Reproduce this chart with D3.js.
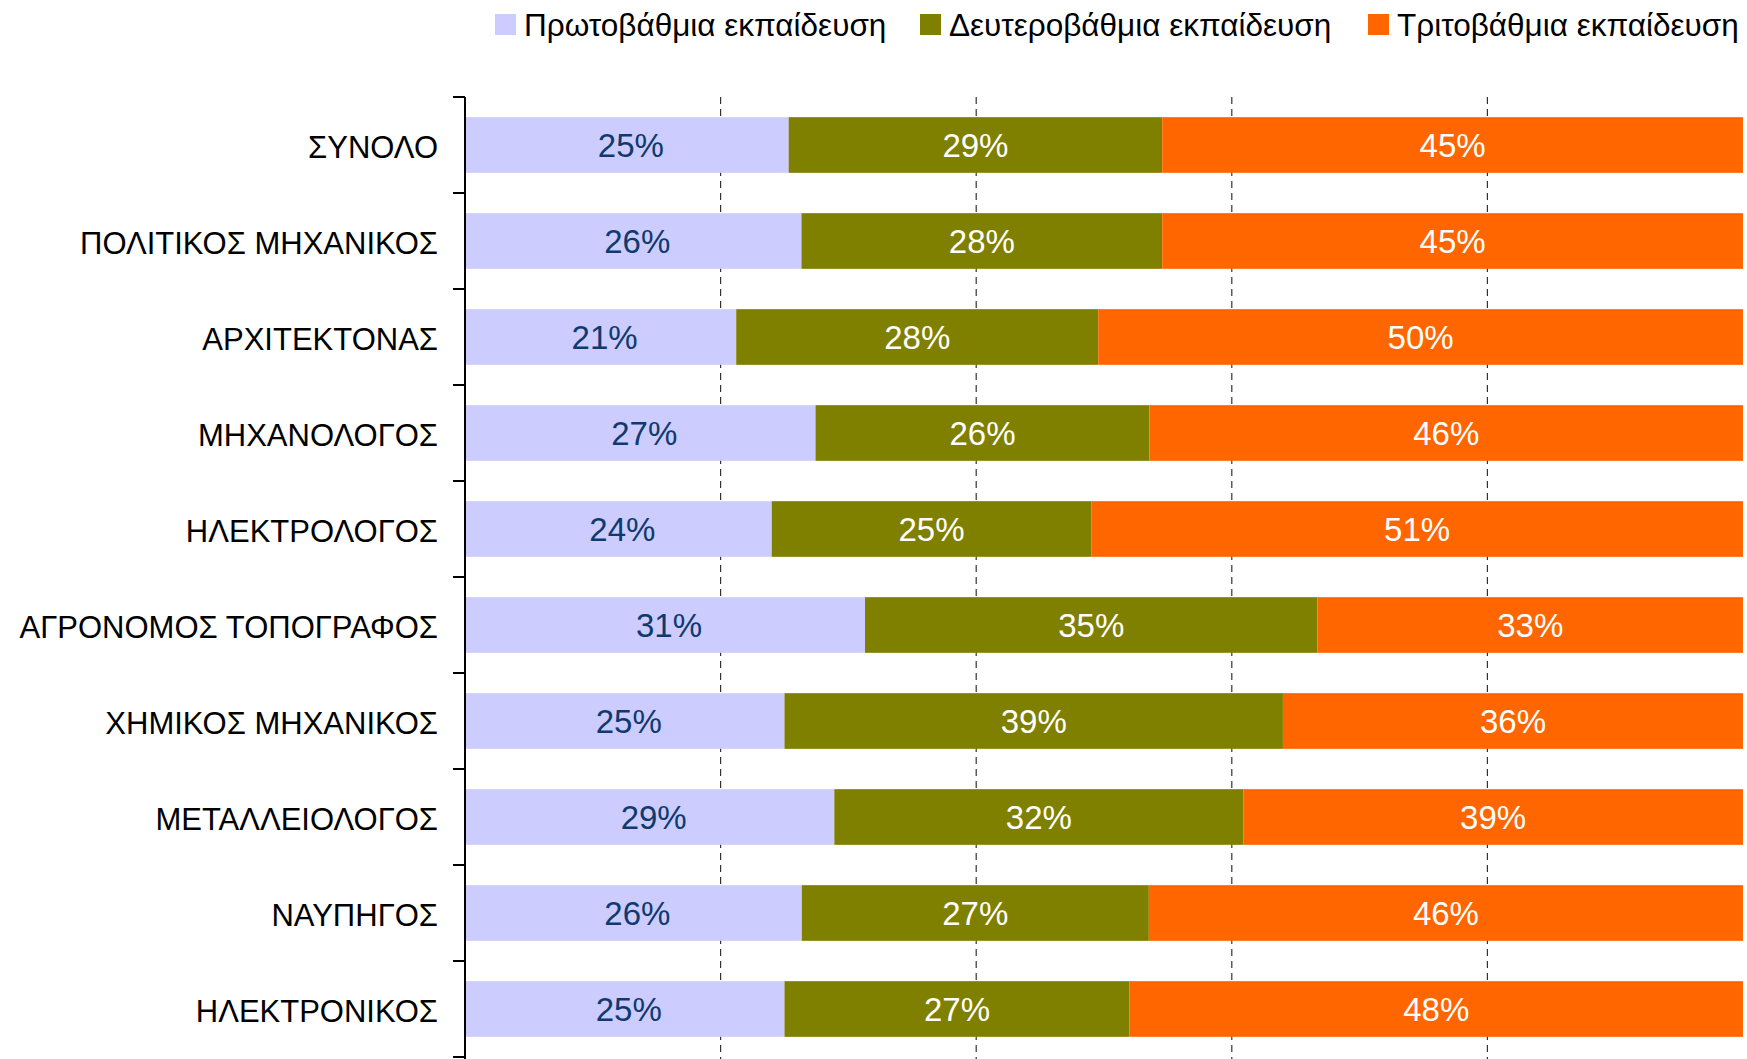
<!DOCTYPE html>
<html><head><meta charset="utf-8">
<script src="https://cdn.jsdelivr.net/npm/d3@7"></script>
<style>body{margin:0;background:#fff}svg{display:block}text{font-family:"Liberation Sans",Arial,sans-serif}</style>
</head><body>
<svg id="c" width="1747" height="1059"></svg>
<script>
const categories = ["ΣΥΝΟΛΟ","ΠΟΛΙΤΙΚΟΣ ΜΗΧΑΝΙΚΟΣ","ΑΡΧΙΤΕΚΤΟΝΑΣ","ΜΗΧΑΝΟΛΟΓΟΣ","ΗΛΕΚΤΡΟΛΟΓΟΣ","ΑΓΡΟΝΟΜΟΣ ΤΟΠΟΓΡΑΦΟΣ","ΧΗΜΙΚΟΣ ΜΗΧΑΝΙΚΟΣ","ΜΕΤΑΛΛΕΙΟΛΟΓΟΣ","ΝΑΥΠΗΓΟΣ","ΗΛΕΚΤΡΟΝΙΚΟΣ"];
const seriesNames = ["Πρωτοβάθμια εκπαίδευση","Δευτεροβάθμια εκπαίδευση","Τριτοβάθμια εκπαίδευση"];
const primary   = [25.3, 26.3, 21.2, 27.4, 24.0, 31.3, 25.0, 28.9, 26.3, 25.0];
const secondary = [29.2, 28.2, 28.3, 26.1, 25.0, 35.4, 39.0, 32.0, 27.1, 27.0];
const tertiary  = [45.4, 45.4, 50.4, 46.4, 51.0, 33.3, 36.0, 39.1, 46.4, 48.0];
const xTicks = [0.2, 0.4, 0.6, 0.8];
const colors = ["#CCCCFF","#808000","#FF6600"];
const labelColors = ["#0F3A6E","#FFFFFF","#FFFFFF"];

(function(){
const svg = d3.select("#c");
const mLeft = 465, mRight = 1743, mTop = 97, mBottom = 1057;
const keys = ["p","s","t"];
const rows = categories.map((c,i)=>({cat:c, p:primary[i], s:secondary[i], t:tertiary[i]}));
const stacked = d3.stack().keys(keys).offset(d3.stackOffsetExpand)(rows);

const x = d3.scaleLinear().domain([0,1]).range([mLeft,mRight]);
const y = d3.scaleBand().domain(categories).range([mTop,mBottom]).paddingInner(0.42).paddingOuter(0.21);

svg.append("g").selectAll("line").data(xTicks).join("line")
  .attr("x1",d=>x(d)).attr("x2",d=>x(d)).attr("y1",mTop).attr("y2",1059)
  .attr("stroke","#333").attr("stroke-width",1.2).attr("stroke-dasharray","7,5");

const g = svg.append("g");
stacked.forEach((layer,li)=>{
  const lg = g.append("g");
  lg.selectAll("rect").data(layer).join("rect")
    .attr("x",d=>x(d[0])).attr("width",d=>x(d[1])-x(d[0]))
    .attr("y",d=>y(d.data.cat)).attr("height",y.bandwidth())
    .attr("fill",colors[li]);
  lg.selectAll("text").data(layer).join("text")
    .attr("x",d=>(x(d[0])+x(d[1]))/2 + (li===0?4:0))
    .attr("y",d=>y(d.data.cat)+y.bandwidth()/2)
    .attr("dy","0.35em").attr("text-anchor","middle")
    .attr("font-size",33).attr("fill",labelColors[li])
    .text(d=>Math.round(d.data[keys[li]])+"%");
});

const yAxisScale = d3.scaleBand().domain(categories).range([mTop,mBottom]);
const ax = svg.append("g").attr("transform",`translate(${mLeft},0)`)
  .call(d3.axisLeft(y).tickSize(0).tickPadding(27));
ax.select(".domain").remove();
ax.selectAll("text").attr("font-size",31).attr("dy","0.42em").attr("fill","#000").style("font-family","'Liberation Sans',Arial,sans-serif");
svg.append("line").attr("x1",mLeft).attr("x2",mLeft).attr("y1",mTop).attr("y2",1059).attr("stroke","#000").attr("stroke-width",2);
const bounds = categories.map(c=>yAxisScale(c)).concat([mBottom]);
svg.append("g").selectAll("line").data(bounds).join("line")
  .attr("x1",mLeft-12).attr("x2",mLeft).attr("y1",d=>d).attr("y2",d=>d)
  .attr("stroke","#000").attr("stroke-width",2);

const legendX = [495, 920, 1368];
const lgd = svg.append("g");
seriesNames.forEach((n,i)=>{
  lgd.append("rect").attr("x",legendX[i]).attr("y",14).attr("width",21).attr("height",21).attr("fill",colors[i]);
  lgd.append("text").attr("x",legendX[i]+29).attr("y",25).attr("dy","0.35em")
    .attr("font-size",31.5).attr("fill","#000").text(n);
});
})();
</script>
</body></html>
